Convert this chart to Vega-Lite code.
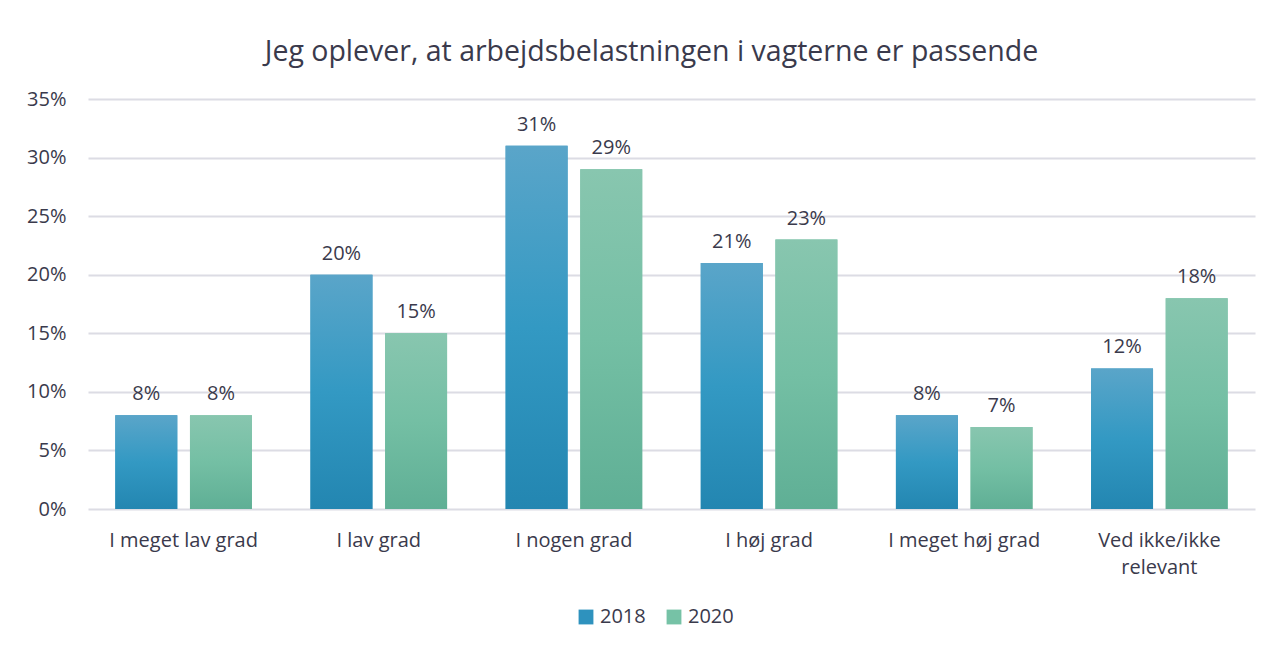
{
  "$schema": "https://vega.github.io/schema/vega-lite/v6.json",
  "width": 1167,
  "height": 410,
  "padding": {"left": 26, "top": 37, "right": 30, "bottom": 10},
  "background": "white",
  "title": {
    "text": "Jeg oplever, at arbejdsbelastningen i vagterne er passende",
    "font": "Open Sans",
    "fontSize": 28.5,
    "fontWeight": "normal",
    "color": "#3A3A4C",
    "anchor": "middle",
    "dx": -20,
    "offset": 23
  },
  "config": {
    "view": {"stroke": null},
    "font": "Open Sans",
    "axis": {
      "labelFont": "Open Sans",
      "labelFontSize": 20,
      "labelColor": "#3A3A4C",
      "domain": false,
      "ticks": false,
      "gridColor": "#DCDCE4",
      "gridWidth": 2
    },
    "legend": {"labelFont": "Open Sans", "labelFontSize": 20, "labelColor": "#3A3A4C"}
  },
  "data": {
    "values": [
      {"category": "I meget lav grad", "year": "2018", "value": 0.08},
      {"category": "I meget lav grad", "year": "2020", "value": 0.08},
      {"category": "I lav grad", "year": "2018", "value": 0.20},
      {"category": "I lav grad", "year": "2020", "value": 0.15},
      {"category": "I nogen grad", "year": "2018", "value": 0.31},
      {"category": "I nogen grad", "year": "2020", "value": 0.29},
      {"category": "I høj grad", "year": "2018", "value": 0.21},
      {"category": "I høj grad", "year": "2020", "value": 0.23},
      {"category": "I meget høj grad", "year": "2018", "value": 0.08},
      {"category": "I meget høj grad", "year": "2020", "value": 0.07},
      {"category": "Ved ikke/ikke relevant", "year": "2018", "value": 0.12},
      {"category": "Ved ikke/ikke relevant", "year": "2020", "value": 0.18}
    ]
  },
  "encoding": {
    "x": {
      "field": "category",
      "type": "nominal",
      "sort": null,
      "scale": {"paddingInner": 0.3, "paddingOuter": 0.14},
      "axis": {
        "title": null,
        "labelAngle": 0,
        "labelPadding": 21,
        "labelLineHeight": 27,
        "labelOverlap": false,
        "grid": false,
        "labelExpr": "datum.label == 'Ved ikke/ikke relevant' ? ['Ved ikke/ikke', 'relevant'] : datum.label"
      }
    },
    "xOffset": {"field": "year", "type": "nominal", "scale": {"paddingInner": 0.17}},
    "y": {
      "field": "value",
      "type": "quantitative",
      "scale": {"domain": [0, 0.35], "nice": false},
      "axis": {"title": null, "format": ".0%", "values": [0, 0.05, 0.1, 0.15, 0.2, 0.25, 0.3, 0.35], "labelOverlap": false, "labelPadding": 22}
    }
  },
  "layer": [
    {
      "mark": {"type": "bar"},
      "encoding": {
        "color": {
          "field": "year",
          "type": "nominal",
          "scale": {"domain": ["2018", "2020"], "range": ["#2E92BE", "#76C2A6"]},
          "legend": {
            "title": null,
            "orient": "none",
            "direction": "horizontal",
            "legendX": 488,
            "legendY": 508,
            "symbolType": "square",
            "symbolSize": 220,
            "columnPadding": 18,
            "labelOffset": 4
          }
        }
      }
    },
    {
      "mark": {"type": "bar"},
      "encoding": {
        "fill": {
          "condition": {
            "test": "datum.year === '2018'",
            "value": {"gradient": "linear", "x1": 0, "y1": 0, "x2": 0, "y2": 1, "stops": [{"offset": 0, "color": "#5AA5C9"}, {"offset": 0.5, "color": "#3399C3"}, {"offset": 1, "color": "#2386B1"}]}
          },
          "value": {"gradient": "linear", "x1": 0, "y1": 0, "x2": 0, "y2": 1, "stops": [{"offset": 0, "color": "#88C6AF"}, {"offset": 0.5, "color": "#74BFA4"}, {"offset": 1, "color": "#5FAF95"}]}
        }
      }
    },
    {
      "mark": {"type": "text", "baseline": "bottom", "dy": -11, "fontSize": 20, "color": "#3A3A4C", "font": "Open Sans"},
      "encoding": {
        "text": {"field": "value", "type": "quantitative", "format": ".0%"}
      }
    }
  ]
}
